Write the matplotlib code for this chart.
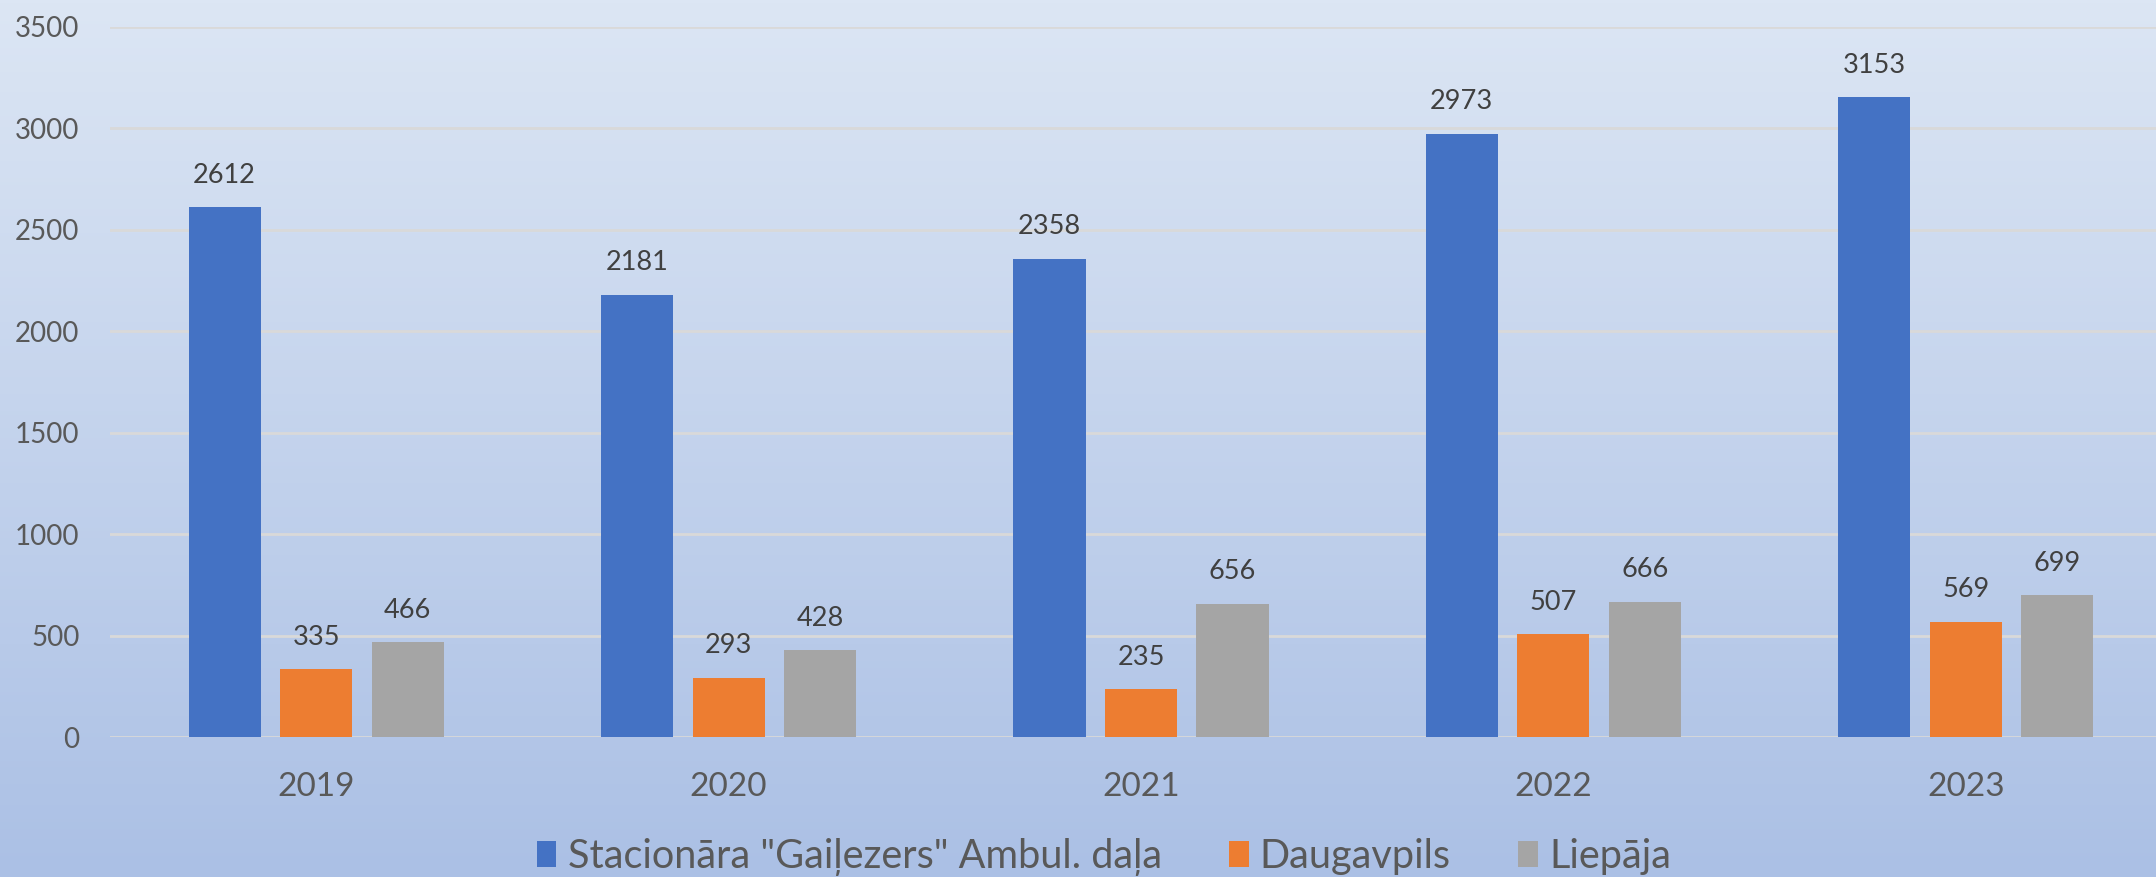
import numpy as np
import matplotlib
matplotlib.use("Agg")
import matplotlib.pyplot as plt
from matplotlib.patches import Patch

years = ["2019", "2020", "2021", "2022", "2023"]
series_names = ['Stacionāra "Gaiļezers" Ambul. daļa', "Daugavpils", "Liepāja"]
gailezers = [2612, 2181, 2358, 2973, 3153]
daugavpils = [335, 293, 235, 507, 569]
liepaja = [466, 428, 656, 666, 699]
colors = ["#4472C4", "#ED7D31", "#A5A5A5"]

plt.rcParams['font.family'] = ['Lato', 'DejaVu Sans']

W, H = 2156, 877
fig = plt.figure(figsize=(W / 100, H / 100), dpi=100)

# gradient background
bg = fig.add_axes([0, 0, 1, 1], zorder=-10)
top = np.array([220, 230, 244]) / 255.0
bot = np.array([171, 192, 229]) / 255.0
t = np.linspace(0, 1, 256)[:, None]
grad = top[None, :] * (1 - t) + bot[None, :] * t
bg.imshow(grad[:, None, :], aspect='auto', extent=[0, 1, 0, 1])
bg.set_axis_off()

ax = fig.add_axes([110 / W, 140 / H, 2062 / W, 710 / H])
ax.set_facecolor('none')
x = np.arange(len(years))
bw = 0.175
step = 0.222
for i, (vals, c) in enumerate(zip([gailezers, daugavpils, liepaja], colors)):
    bars = ax.bar(x + (i - 1) * step, vals, width=bw, color=c, zorder=3)
    ax.bar_label(bars, padding=14, fontsize=19.5, color="#404040")

ax.set_xlim(-0.5, 4.5)
ax.set_ylim(0, 3500)
ax.set_yticks(np.arange(0, 3501, 500))
ax.yaxis.grid(True, color="#D9D9D9", linewidth=2, zorder=0)
ax.set_axisbelow(True)
for s in ax.spines.values():
    s.set_visible(False)
ax.tick_params(axis='both', length=0)
ax.tick_params(axis='y', labelsize=20, labelcolor="#595959", pad=22)
ax.set_xticks(x)
ax.set_xticklabels(years)
ax.tick_params(axis='x', labelsize=24, labelcolor="#595959", pad=25)

handles = [Patch(facecolor=c, edgecolor='none') for c in colors]
fig.legend(handles, series_names, loc='center', bbox_to_anchor=(0.512, 1 - 857 / H),
           ncol=3, frameon=False, fontsize=28.5, labelcolor="#595959",
           handlelength=0.5, handleheight=0.6, handletextpad=0.28, columnspacing=1.7)

fig.savefig("out.png", dpi=100)
